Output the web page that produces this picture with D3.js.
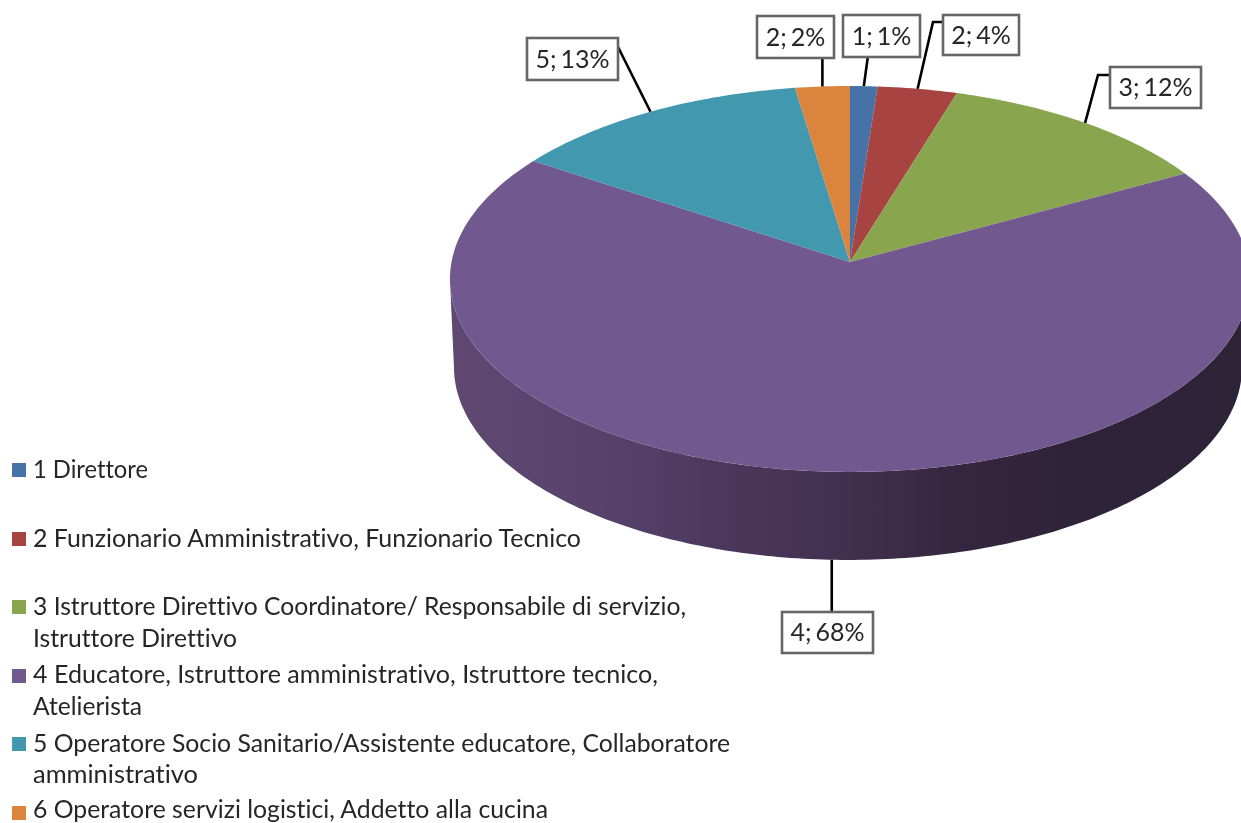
<!DOCTYPE html>
<html><head><meta charset="utf-8">
<script src="https://cdn.jsdelivr.net/npm/d3@7/dist/d3.min.js"></script>
<style>html,body{margin:0;padding:0;background:#fff;overflow:hidden}svg{display:block;filter:blur(.55px)}text{font-family:Lato,"Open Sans",sans-serif;fill:#262626;font-variant-ligatures:none}</style>
</head><body><svg id="c" width="1241" height="823"></svg>
<script>
const categories=["1","2","3","4","5","6"];
const values=[1.2,3.5,12.3,67.3,13.27,2.4];
const pctLabels=["1; 1%","2; 4%","3; 12%","4; 68%","5; 13%","2; 2%"];
const colors=["#4672a8","#a74442","#89a54e","#71588f","#4198af","#db843d"];
const legendLines=[
 ["1 Direttore"],
 ["2 Funzionario Amministrativo, Funzionario Tecnico"],
 ["3 Istruttore Direttivo Coordinatore/ Responsabile di servizio,","Istruttore Direttivo"],
 ["4 Educatore, Istruttore amministrativo, Istruttore tecnico,","Atelierista"],
 ["5 Operatore Socio Sanitario/Assistente educatore, Collaboratore","amministrativo"],
 ["6 Operatore servizi logistici, Addetto alla cucina"]];

// layout
const labelBoxes=[[843,15,77,42],[943,15,76,40],[1110,67,91,41],[782,612,91,41],[527,38,91,42],[757,16,77,42]];
const elbows=[null,[[933,22],[943,22]],[[1098,75],[1110,75]],null,[[618,47]],null];
const legendSwatchY=[470,539,607,676,744,813];
const legendBase=[[478],[547],[615,647],[683,715],[752,783],[818]];
const legendWidths=[[115],[548],[653,204],[625,109],[697,165],[515]];
const cx=850,R=398.5,c=0.088,yA=262,yB=-168.4,depth=88;
const project=(a,r=1)=>{const t=Math.cos(a),s=Math.sin(a),k=1+c*t*r;
  return [cx+R*r*s/k,(yA+yB*r*t)/k];};
const rim=a=>{const p=project(a);return [cx-2+(p[0]-cx)*0.985,p[1]+depth];};
const svg=d3.select("#c");
const line=d3.line();
const arcs=d3.pie().sort(null).value(d=>d)(values);

// side wall
const defs=svg.append("defs");
const xs=d3.scaleLinear().domain([450,1241]).range([0,1]);
const g=defs.append("linearGradient").attr("id","side").attr("gradientUnits","objectBoundingBox");
[[450,"#604873"],[600,"#57426a"],[750,"#4a3559"],[850,"#40304e"],[950,"#35263f"],[1060,"#2f2339"],[1241,"#2d2337"]]
 .forEach(([x,col])=>g.append("stop").attr("offset",xs(x)).attr("stop-color",col));
const ext=Math.acos(-c);
const topEdge=d3.range(ext,2*Math.PI-ext+1e-9,(2*Math.PI-2*ext)/200);
svg.append("path").attr("fill","url(#side)")
 .attr("d",line(topEdge.map(a=>project(a)).concat(topEdge.slice().reverse().map(rim)))+"Z");

// top slices
svg.append("g").selectAll("path").data(arcs).join("path")
 .attr("fill",(d,i)=>colors[i])
 .attr("d",d=>{const n=Math.max(8,Math.ceil((d.endAngle-d.startAngle)*60));
   const pts=d3.range(n+1).map(i=>project(d.startAngle+(d.endAngle-d.startAngle)*i/n));
   return line([project(0,0),...pts])+"Z";});

// leaders
svg.append("g").selectAll("path").data(arcs).join("path")
 .attr("fill","none").attr("stroke","#000").attr("stroke-width",2.6)
 .attr("d",(d,i)=>{const m=(d.startAngle+d.endAngle)/2;
   const b=labelBoxes[i];
   const start=Math.cos(m)<0?[project(m)[0],rim(m)[1]]:project(m);
   let pts=[start];
   if(elbows[i]) pts=pts.concat(elbows[i]);
   else pts.push([start[0]+(i==0?4:0),i==3?b[1]:b[1]+b[3]]);
   return line(pts);});

// label boxes
const lb=svg.append("g").selectAll("g").data(pctLabels).join("g");
lb.append("rect").attr("x",(d,i)=>labelBoxes[i][0]).attr("y",(d,i)=>labelBoxes[i][1])
 .attr("width",(d,i)=>labelBoxes[i][2]).attr("height",(d,i)=>labelBoxes[i][3])
 .attr("fill","#fff").attr("stroke","#666").attr("stroke-width",2.6);
lb.append("text").text(d=>d).attr("text-anchor","middle").attr("font-size",25)
 .style("word-spacing","-2.5px")
 .attr("x",(d,i)=>labelBoxes[i][0]+labelBoxes[i][2]/2)
 .attr("y",(d,i)=>labelBoxes[i][1]+labelBoxes[i][3]/2+8.5);

// legend
const lg=svg.append("g").selectAll("g").data(categories).join("g");
lg.append("rect").attr("x",12).attr("width",14).attr("height",14)
 .attr("y",(d,i)=>legendSwatchY[i]-7).attr("fill",(d,i)=>colors[i]);
lg.each(function(d,i){
  d3.select(this).selectAll("text").data(legendLines[i]).join("text")
   .text(t=>t).attr("x",33).attr("y",(t,j)=>legendBase[i][j])
   .attr("font-size",25)
   .attr("textLength",(t,j)=>legendWidths[i][j]).attr("lengthAdjust","spacingAndGlyphs");
});
</script></body></html>
